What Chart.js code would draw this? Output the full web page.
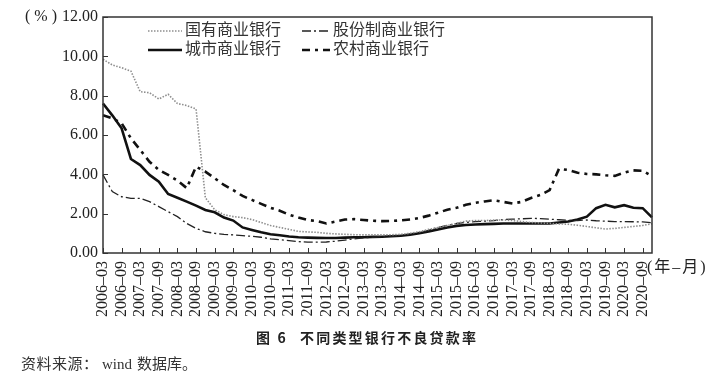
<!DOCTYPE html>
<html>
<head>
<meta charset="utf-8">
<script src="https://cdn.jsdelivr.net/npm/chart.js@4.4.0/dist/chart.umd.min.js"></script>
<style>
  body { margin: 0; background: #fff; }
  canvas { display: block; }
</style>
</head>
<body>
<canvas id="nplChart" width="721" height="383"></canvas>
<script>
// quarterly, 2006-03 .. 2020-12
const quarters = [
  "2006–03","2006–06","2006–09","2006–12","2007–03","2007–06","2007–09","2007–12",
  "2008–03","2008–06","2008–09","2008–12","2009–03","2009–06","2009–09","2009–12",
  "2010–03","2010–06","2010–09","2010–12","2011–03","2011–06","2011–09","2011–12",
  "2012–03","2012–06","2012–09","2012–12","2013–03","2013–06","2013–09","2013–12",
  "2014–03","2014–06","2014–09","2014–12","2015–03","2015–06","2015–09","2015–12",
  "2016–03","2016–06","2016–09","2016–12","2017–03","2017–06","2017–09","2017–12",
  "2018–03","2018–06","2018–09","2018–12","2019–03","2019–06","2019–09","2019–12",
  "2020–03","2020–06","2020–09","2020–12"
];

const stateOwned = [
  9.85, 9.56, 9.42, 9.25, 8.20, 8.15, 7.83, 8.07, 7.60, 7.50, 7.32, 2.81,
  2.20, 1.95, 1.85, 1.80, 1.70, 1.55, 1.40, 1.30, 1.20, 1.10, 1.07, 1.05,
  1.00, 0.97, 0.95, 0.93, 0.92, 0.92, 0.92, 0.93, 0.95, 1.00, 1.08, 1.20,
  1.30, 1.40, 1.50, 1.62, 1.65, 1.65, 1.67, 1.68, 1.65, 1.60, 1.55, 1.53,
  1.51, 1.48, 1.46, 1.41, 1.35, 1.28, 1.22, 1.25, 1.30, 1.35, 1.40, 1.48
];
const jointStock = [
  3.97, 3.12, 2.86, 2.78, 2.78, 2.61, 2.36, 2.10, 1.85, 1.50, 1.25, 1.08,
  1.00, 0.95, 0.92, 0.88, 0.85, 0.80, 0.72, 0.68, 0.63, 0.58, 0.55, 0.55,
  0.56, 0.60, 0.66, 0.72, 0.77, 0.80, 0.84, 0.86, 0.90, 0.97, 1.05, 1.15,
  1.30, 1.40, 1.50, 1.55, 1.60, 1.62, 1.65, 1.70, 1.72, 1.74, 1.76, 1.75,
  1.72, 1.69, 1.66, 1.65, 1.68, 1.64, 1.62, 1.60, 1.60, 1.59, 1.58, 1.54
];
const cityBanks = [
  7.60, 7.00, 6.34, 4.78, 4.47, 3.97, 3.63, 3.00, 2.81, 2.61, 2.41, 2.19,
  2.07, 1.80, 1.65, 1.30, 1.17, 1.05, 0.95, 0.90, 0.84, 0.80, 0.78, 0.77,
  0.76, 0.76, 0.78, 0.80, 0.80, 0.82, 0.83, 0.85, 0.88, 0.93, 1.00, 1.10,
  1.20, 1.30, 1.38, 1.42, 1.45, 1.47, 1.48, 1.50, 1.50, 1.50, 1.50, 1.50,
  1.50, 1.55, 1.60, 1.70, 1.85, 2.28, 2.45, 2.32, 2.43, 2.30, 2.28, 1.81
];
const ruralBanks = [
  7.00, 6.85, 6.60, 5.83, 5.24, 4.64, 4.22, 3.97, 3.68, 3.30, 4.39, 4.14,
  3.80, 3.46, 3.20, 2.90, 2.70, 2.50, 2.30, 2.15, 1.95, 1.80, 1.68, 1.62,
  1.50, 1.60, 1.70, 1.72, 1.68, 1.64, 1.62, 1.63, 1.66, 1.70, 1.78, 1.90,
  2.05, 2.20, 2.30, 2.45, 2.55, 2.62, 2.68, 2.60, 2.52, 2.60, 2.80, 2.95,
  3.20, 4.28, 4.22, 4.08, 4.02, 4.00, 3.95, 3.92, 4.08, 4.20, 4.18, 3.90
];

const seriesNames = ["国有商业银行", "股份制商业银行", "城市商业银行", "农村商业银行"];

const serif = "'Liberation Serif', 'Noto Sans CJK SC', serif";

// frame, inward ticks, legend and captions
const decor = {
  id: "decor",
  beforeDraw(chart) {
    const ctx = chart.ctx;
    ctx.save();
    ctx.fillStyle = "#fff";
    ctx.fillRect(0, 0, chart.width, chart.height);
    ctx.restore();
  },
  afterDatasetsDraw(chart) {
    const ctx = chart.ctx;
    const a = chart.chartArea;
    const xs = chart.scales.x, ys = chart.scales.y;
    ctx.save();
    ctx.strokeStyle = "#333";
    ctx.lineWidth = 1.5;
    ctx.strokeRect(a.left, a.top, a.right - a.left, a.bottom - a.top);

    ctx.lineWidth = 1;
    ctx.beginPath();
    quarters.forEach((q, i) => {
      if (i % 2) return;
      const px = Math.round(xs.getPixelForValue(i)) + 0.5;
      ctx.moveTo(px, a.bottom);
      ctx.lineTo(px, a.bottom - 5);
    });
    ys.ticks.forEach(t => {
      const py = Math.round(ys.getPixelForValue(t.value)) + 0.5;
      ctx.moveTo(a.left, py);
      ctx.lineTo(a.left + 5, py);
    });
    ctx.stroke();

    // legend, two columns
    const spots = [[148, 182, 31], [302, 330, 31], [148, 182, 50], [302, 330, 50]];
    chart.data.datasets.forEach((ds, i) => {
      const [x0, x1, yy] = spots[i];
      ctx.strokeStyle = ds.borderColor;
      ctx.lineWidth = ds.borderWidth;
      ctx.setLineDash(ds.borderDash || []);
      ctx.beginPath();
      ctx.moveTo(x0, yy);
      ctx.lineTo(x1, yy);
      ctx.stroke();
      ctx.setLineDash([]);
      ctx.fillStyle = "#333";
      ctx.font = "16px " + serif;
      ctx.textAlign = "left";
      ctx.textBaseline = "middle";
      ctx.fillText(ds.label, x1 + 3, yy);
    });

    ctx.fillStyle = "#222";
    ctx.font = "16px " + serif;
    ctx.textBaseline = "middle";
    ctx.textAlign = "right";
    ctx.fillText("( % )", 57, ys.getPixelForValue(12));
    ctx.textAlign = "left";
    ctx.letterSpacing = "2px";
    ctx.fillText("(年–月)", 647, 268);

    ctx.font = "bold 14px 'Noto Sans CJK SC', sans-serif";
    ctx.letterSpacing = "2.2px";
    ctx.fillText("图 6", 256, 338);
    ctx.fillText("不同类型银行不良贷款率", 300, 338);

    ctx.letterSpacing = "0.5px";
    ctx.font = "15px " + serif;
    ctx.fillStyle = "#333";
    ctx.fillText("资料来源：", 21, 365);
    ctx.letterSpacing = "0px";
    ctx.fillText("wind", 102, 365);
    ctx.fillText("数据库。", 137, 365);
    ctx.restore();
  }
};

const datasets = [
  { label: seriesNames[0], data: stateOwned, borderColor: "#8e8e8e", borderWidth: 1.6, borderDash: [1.5, 1.5] },
  { label: seriesNames[1], data: jointStock, borderColor: "#222", borderWidth: 1.3, borderDash: [9, 3, 2, 3] },
  { label: seriesNames[2], data: cityBanks, borderColor: "#111", borderWidth: 2.6 },
  { label: seriesNames[3], data: ruralBanks, borderColor: "#111", borderWidth: 2.6, borderDash: [8, 5, 3, 5] }
];
datasets.forEach(d => { d.pointRadius = 0; d.tension = 0; d.fill = false; });

new Chart(document.getElementById("nplChart"), {
  type: "line",
  data: { labels: quarters, datasets: datasets },
  options: {
    responsive: false,
    animation: false,
    layout: { padding: { left: 0, top: 17, right: 69, bottom: 0 } },
    plugins: { legend: { display: false }, tooltip: { enabled: false } },
    scales: {
      x: {
        grid: { display: false, drawTicks: false },
        border: { display: false },
        afterFit: s => { s.height = 130; },
        ticks: {
          autoSkip: false,
          minRotation: 90,
          maxRotation: 90,
          padding: 8,
          color: "#222",
          font: { family: serif, size: 16 },
          callback: function (v, i) { return i % 2 ? null : quarters[i]; }
        }
      },
      y: {
        min: 0,
        max: 12,
        grid: { display: false, drawTicks: false },
        border: { display: false },
        afterFit: s => { s.width = 103; },
        ticks: {
          stepSize: 2,
          padding: 5,
          color: "#222",
          font: { family: serif, size: 16 },
          callback: v => v.toFixed(2)
        }
      }
    }
  },
  plugins: [decor]
});
</script>
</body>
</html>
